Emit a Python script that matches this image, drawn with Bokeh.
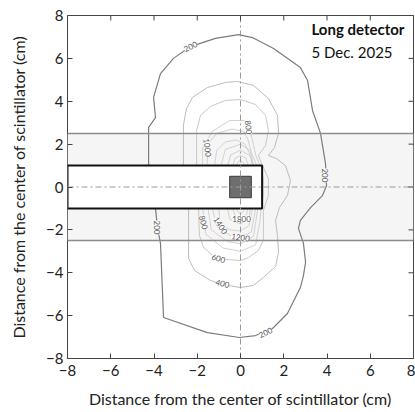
import math
from bokeh.plotting import figure
from bokeh.models import FixedTicker, ColumnDataSource, Range1d
from bokeh.core.properties import value
from bokeh.embed import file_html
from bokeh.resources import INLINE

# ---------------- data ----------------
x_ticks = [-8, -6, -4, -2, 0, 2, 4, 6, 8]
y_ticks = [-8, -6, -4, -2, 0, 2, 4, 6, 8]
axis_lim = [-8, 8]

band_y = [-2.5, 2.5]            # shaded band
scint_x = [-8, 1]               # scintillator box
scint_y = [-1, 1]
source_x = [-0.5, 0.5]          # source square
source_y = [-0.5, 0.5]

levels = [200, 400, 600, 800, 1000, 1200, 1400, 1600, 1800, 2000]

c200_x = [-0.09, 0.55, 1.53, 2.77, 3.10, 3.33, 3.70, 3.93, 3.98, 3.79, 3.24, 2.77, 2.68, 2.91, 3.01, 2.91, 2.77,
          2.17, 1.48, 0.69, -0.05, -1.53, -3.56, -3.61, -3.70, -3.84, -3.93, -4.16, -4.25, -4.25, -3.93, -4.02,
          -3.70, -3.10, -2.31, -1.16, -0.09]
c200_y = [7.11, 6.97, 6.46, 5.57, 4.97, 3.57, 2.50, 1.10, 0.07, -0.40, -0.96, -1.56, -1.93, -2.63, -3.52, -4.13,
          -4.69, -5.90, -6.60, -6.93, -7.02, -6.79, -6.09, -4.83, -2.63, -1.89, -1.00, 0.07, 1.10, 2.78, 3.24, 4.18,
          5.29, 6.00, 6.55, 6.93, 7.11]
c400_x = [-2.64, -2.64, -2.50, -2.22, -1.53, -0.69, -0.14, 0.60, 1.29, 1.71, 1.76, 1.57, 1.29, 1.66, 2.08, 2.31,
          2.17, 1.80, 1.62, 1.71, 1.76, 1.62, 1.06, 0.60, 0.0, -0.83, -1.39, -2.13, -2.40, -2.40, -2.40]
c400_y = [1.0, 2.87, 3.66, 4.18, 4.64, 4.88, 4.92, 4.74, 4.13, 3.34, 2.50, 1.84, 1.47, 1.33, 1.0, 0.30, -0.40,
          -0.96, -1.56, -2.26, -3.05, -3.71, -4.22, -4.59, -4.69, -4.55, -4.36, -3.89, -3.33, -2.03, -1.0]
c600_x = [-2.03, -2.03, -1.85, -1.39, -0.69, 0.0, 0.69, 1.16, 1.29, 1.16, 0.83, 1.02, 1.29, 1.29, 1.06, 1.06,
          1.06, 0.83, 0.37, 0.0, -0.69, -1.29, -1.71, -1.90, -1.94]
c600_y = [1.0, 2.64, 3.34, 3.76, 4.04, 4.08, 3.85, 3.34, 2.64, 1.94, 1.47, 1.0, 0.40, -0.40, -1.10, -1.79, -2.49,
          -2.96, -3.29, -3.43, -3.38, -3.19, -2.82, -2.26, -1.0]
c800_x = [-1.75, -1.75, -1.3, -0.5, 0.2, 0.4, 0.55, 0.7, 0.9, 1.05, 1.05, 0.95, 0.9, 0.7, 0.0, -0.8, -1.6, -1.75]
c800_y = [1.0, 1.8, 2.6, 3.1, 3.1, 2.8, 2.2, 1.5, 1.0, 0.4, -0.4, -1.0, -1.6, -2.7, -3.0, -2.85, -2.2, -1.0]
c1000_x = [-1.55, -1.5, -1.1, -0.4, 0.15, 0.35, 0.5, 0.75, 0.85, 0.85, 0.8, 0.6, 0.0, -0.6, -1.35, -1.5]
c1000_y = [1.0, 2.0, 2.5, 2.7, 2.6, 2.2, 1.6, 1.0, 0.3, -0.3, -1.0, -2.3, -2.65, -2.55, -2.0, -1.0]
c1200_x = [-1.2, -1.1, -0.7, -0.2, 0.2, 0.4, 0.6, 0.7, 0.7, 0.7, 0.5, 0.0, -0.5, -1.1, -1.3]
c1200_y = [1.0, 1.7, 2.1, 2.2, 2.0, 1.6, 1.0, 0.3, -0.3, -1.0, -2.1, -2.35, -2.25, -1.8, -1.0]
c1400_x = [-0.9, -0.7, 0.0, 0.45, 0.6, 0.6, 0.55, 0.4, 0.0, -0.5, -0.95, -1.0]
c1400_y = [1.0, 1.75, 2.0, 1.7, 1.0, -0.5, -1.0, -1.8, -2.05, -2.0, -1.7, -1.0]
c1600_x = [-0.6, -0.45, 0.0, 0.45, 0.55, 0.5, 0.45, 0.4, 0.0, -0.5, -0.6]
c1600_y = [1.0, 1.5, 1.72, 1.45, 1.0, 0.0, -1.0, -1.45, -1.72, -1.5, -1.0]
c1800_x = [-0.35, -0.25, 0.0, 0.25, 0.35, 0.35, 0.25, 0.0, -0.25, -0.35]
c1800_y = [1.0, 1.35, 1.47, 1.35, 1.0, -1.0, -1.35, -1.47, -1.35, -1.0]
c2000_x = [-0.2, -0.1, 0.0, 0.1, 0.2, 0.2, 0.1, 0.0, -0.1, -0.2]
c2000_y = [1.0, 1.18, 1.22, 1.18, 1.0, -1.0, -1.18, -1.22, -1.18, -1.0]

label_text = ["200", "200", "200", "200", "400", "600", "800", "1400", "1800", "1200", "1000", "800"]
label_x = [-2.31, 3.93, -3.84, 1.16, -0.83, -1.02, -1.71, -0.92, 0.05, 0.0, -1.53, 0.37]
label_y = [6.55, 0.54, -1.89, -6.79, -4.50, -3.33, -1.65, -1.79, -1.47, -2.35, 1.84, 2.78]
label_angle = [0.45, -1.5708, -1.5708, 0.45, -0.25, -0.3, -1.3, -1.0, 0.0, -0.15, -1.45, -1.45]

title_text = ["Long detector", "5 Dec. 2025"]
axis_title = "Distance from the center of scintillator (cm)"

# ---------------- styles ----------------
level_colors = ["#7c7c7c", "#bcbcbc", "#c8c8c8", "#d2d2d2", "#d2d2d2", "#d2d2d2", "#d2d2d2", "#d2d2d2",
                "#d2d2d2", "#d2d2d2"]
level_widths = [1.2, 1, 1, 1, 1, 1, 1, 1, 1, 1]
FONT = "Lato"
FRAME = "#444444"

p = figure(width=415, height=412, x_range=Range1d(*axis_lim), y_range=Range1d(*axis_lim),
           output_backend="svg", toolbar_location=None,
           min_border_left=67, min_border_right=2, min_border_top=15, min_border_bottom=54)
p.grid.visible = False
p.outline_line_color = FRAME
p.outline_line_width = 1
p.background_fill_color = "white"
p.border_fill_color = "white"

# band
p.quad(left=[axis_lim[0]], right=[axis_lim[1]], bottom=[band_y[0]], top=[band_y[1]],
       fill_color="#f5f5f5", line_color=None)

# contours
cx = [c200_x, c400_x, c600_x, c800_x, c1000_x, c1200_x, c1400_x, c1600_x, c1800_x, c2000_x]
cy = [c200_y, c400_y, c600_y, c800_y, c1000_y, c1200_y, c1400_y, c1600_y, c1800_y, c2000_y]
csrc = ColumnDataSource(dict(xs=cx, ys=cy, level=levels, color=level_colors, width=level_widths))
p.multi_line(xs="xs", ys="ys", line_color="color", line_width="width", source=csrc)

# band edges
p.segment(x0=[axis_lim[0]] * 2, x1=[axis_lim[1]] * 2, y0=band_y, y1=band_y,
          line_color="#8c8c8c", line_width=1.5)

# scintillator box
p.quad(left=[scint_x[0]], right=[scint_x[1]], bottom=[scint_y[0]], top=[scint_y[1]],
       fill_color="white", line_color="#111111", line_width=2)

# source square
p.quad(left=[source_x[0]], right=[source_x[1]], bottom=[source_y[0]], top=[source_y[1]],
       fill_color="#6e6e6e", line_color="#3a3a3a", line_width=1)

# dash-dot centre lines
p.segment(x0=[0, axis_lim[0]], x1=[0, axis_lim[1]], y0=[axis_lim[0], 0], y1=[axis_lim[1], 0],
          line_color="#9a9a9a", line_width=1, line_dash="6 3 2 3")

# contour labels
lsrc = ColumnDataSource(dict(x=label_x, y=label_y, text=label_text, angle=label_angle))
p.text(x="x", y="y", text="text", angle="angle", source=lsrc, text_font=value(FONT),
       text_font_size="8px", text_color="#555555", text_align="center", text_baseline="middle",
       background_fill_color="white", background_fill_alpha=0.9)

# title texts
p.text(x=[3.28], y=[7.35], text=[title_text[0]], text_font=value(FONT), text_font_style="bold",
       text_font_size="15px", text_color="#111111", text_align="left", text_baseline="alphabetic")
p.text(x=[3.28], y=[6.32], text=[title_text[1]], text_font=value(FONT),
       text_font_size="15px", text_color="#111111", text_align="left", text_baseline="alphabetic")

# mirrored inward ticks on top and right edges
p.ray(x=x_ticks, y=[axis_lim[1]] * len(x_ticks), length=5, length_units="screen",
      angle=-math.pi / 2, line_color=FRAME, line_width=1)
p.ray(x=[axis_lim[1]] * len(y_ticks), y=y_ticks, length=5, length_units="screen",
      angle=math.pi, line_color=FRAME, line_width=1)

# axes
for ax, ticks in ((p.xaxis[0], x_ticks), (p.yaxis[0], y_ticks)):
    ax.ticker = FixedTicker(ticks=ticks)
    ax.major_tick_in = 5
    ax.major_tick_out = 0
    ax.minor_tick_line_color = None
    ax.axis_line_color = None
    ax.major_tick_line_color = FRAME
    ax.major_label_text_font = FONT
    ax.major_label_text_color = "#222222"
    ax.major_label_text_font_size = "15px"
    ax.axis_label = axis_title
    ax.axis_label_text_font = FONT
    ax.axis_label_text_font_size = "16px"
    ax.axis_label_text_font_style = "normal"
    ax.axis_label_text_color = "#222222"
p.xaxis[0].major_label_standoff = 6
p.yaxis[0].major_label_standoff = 4
p.xaxis[0].axis_label_standoff = 10
p.yaxis[0].axis_label_standoff = 15

open("out.html", "w").write(file_html(p, INLINE))
